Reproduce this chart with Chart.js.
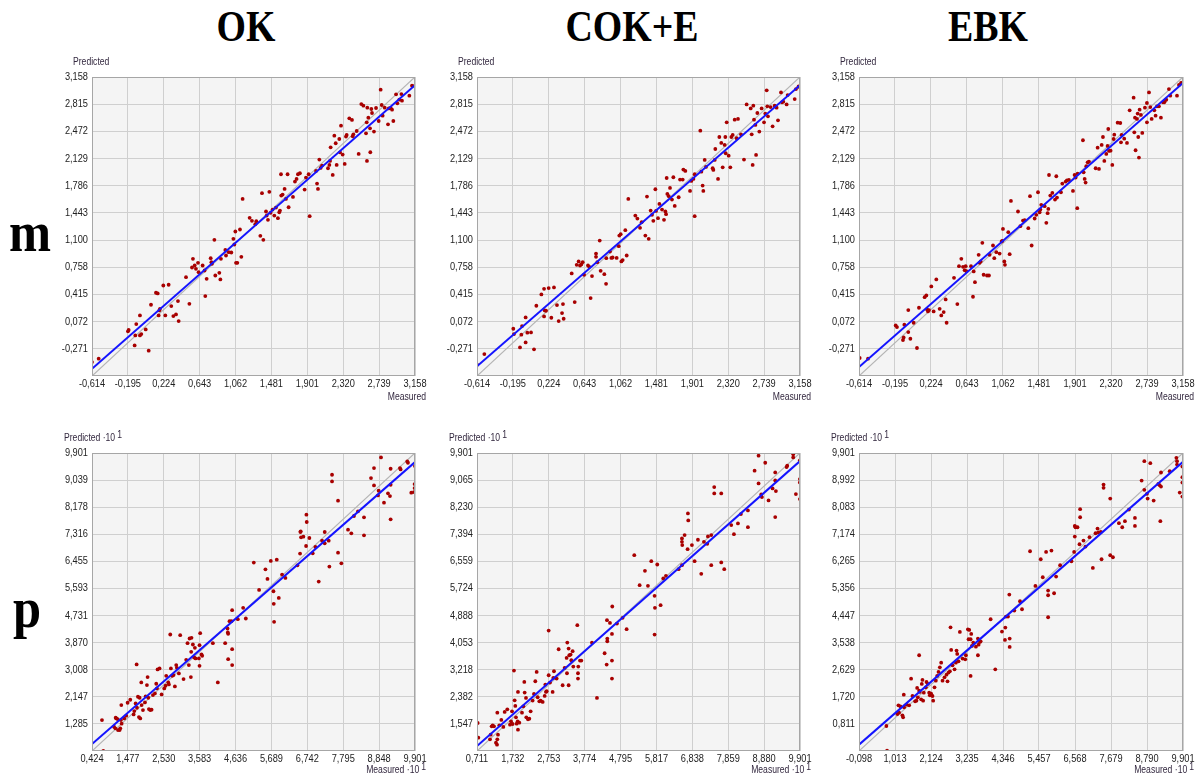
<!DOCTYPE html>
<html>
<head>
<meta charset="utf-8">
<script src="https://cdn.jsdelivr.net/npm/chart.js@4.4.0/dist/chart.umd.min.js"></script>
<style>
  body { margin: 0; background: #fff; width: 1197px; height: 774px; overflow: hidden; position: relative; }
  canvas { position: absolute; }
  .head { position: absolute; width: 200px; text-align: center; font: bold 44px "Liberation Serif", serif; line-height: 44px; color: #000; transform: scaleX(0.86); white-space: nowrap; }
  .row { position: absolute; width: 60px; text-align: center; font: bold 58px "Liberation Serif", serif; line-height: 58px; color: #000; transform: scaleX(0.87); }
</style>
</head>
<body>
<div class="head" style="left:146px;top:5px">OK</div>
<div class="head" style="left:532px;top:5px">COK+E</div>
<div class="head" style="left:888px;top:5px">EBK</div>
<div class="row" style="left:0px;top:203px">m</div>
<div class="row" style="left:-3px;top:579px">p</div>

<canvas id="okM"></canvas>
<canvas id="cokM"></canvas>
<canvas id="ebkM"></canvas>
<canvas id="okP"></canvas>
<canvas id="cokP"></canvas>
<canvas id="ebkP"></canvas>

<script>
// ---- tick values (labels are these with a decimal comma) ----
const mTicksX = [-0.614, -0.195, 0.224, 0.643, 1.062, 1.481, 1.901, 2.320, 2.739, 3.158];
const mTicksY = [-0.271, 0.072, 0.415, 0.758, 1.100, 1.443, 1.786, 2.129, 2.472, 2.815, 3.158];
const mRange = [-0.614, 3.158];

const okPTicksX = [0.424, 1.477, 2.530, 3.583, 4.636, 5.689, 6.742, 7.795, 8.848, 9.901];
const okPTicksY = [1.285, 2.147, 3.008, 3.870, 4.731, 5.593, 6.455, 7.316, 8.178, 9.039, 9.901];
const okPRange = [0.424, 9.901];

const cokPTicksX = [0.711, 1.732, 2.753, 3.774, 4.795, 5.817, 6.838, 7.859, 8.880, 9.901];
const cokPTicksY = [1.547, 2.382, 3.218, 4.053, 4.888, 5.724, 6.559, 7.394, 8.230, 9.065, 9.901];
const cokPRange = [0.711, 9.901];

const ebkPTicksX = [-0.098, 1.013, 2.124, 3.235, 4.346, 5.457, 6.568, 7.679, 8.790, 9.901];
const ebkPTicksY = [0.811, 1.720, 2.629, 3.538, 4.447, 5.356, 6.265, 7.174, 8.083, 8.992, 9.901];
const ebkPRange = [-0.098, 9.901];

// ---- regression line: predicted value at the left and right end of the x range ----
const okMFit = [-0.522, 3.055];
const cokMFit = [-0.492, 3.055];
const ebkMFit = [-0.501, 3.082];
const okPFit = [0.646, 9.612];
const cokPFit = [0.865, 9.653];
const ebkPFit = [0.115, 9.604];

// ---- measured / predicted pairs ----
const okM = [[-0.614,-0.438],[-0.536,-0.396],[-0.194,-0.051],[-0.186,-0.034],[-0.116,-0.228],[-0.108,-0.102],[-0.097,0.041],[-0.054,0.150],[-0.054,-0.102],[-0.038,-0.085],[0.013,-0.026],[0.048,-0.295],[0.075,0.285],[0.133,0.436],[0.153,0.428],[0.164,0.150],[0.172,0.213],[0.180,0.234],[0.219,0.528],[0.242,0.150],[0.281,0.537],[0.312,0.268],[0.336,0.142],[0.367,0.163],[0.390,0.331],[0.398,0.079],[0.484,0.633],[0.523,0.297],[0.554,0.755],[0.565,0.864],[0.585,0.780],[0.600,0.738],[0.624,0.814],[0.631,0.696],[0.678,0.780],[0.701,0.717],[0.709,0.394],[0.725,0.612],[0.772,0.873],[0.780,0.822],[0.787,0.801],[0.815,1.104],[0.826,0.654],[0.873,0.688],[0.885,0.604],[0.892,0.864],[0.943,0.977],[0.951,0.906],[0.982,0.948],[1.013,0.944],[1.037,1.116],[1.048,1.045],[1.060,1.209],[1.068,0.814],[1.083,0.814],[1.114,1.234],[1.130,0.890],[1.145,1.620],[1.227,1.381],[1.254,1.343],[1.293,1.301],[1.305,1.339],[1.352,1.154],[1.371,1.692],[1.387,1.104],[1.418,1.461],[1.426,1.410],[1.441,1.356],[1.457,1.709],[1.472,1.444],[1.495,1.486],[1.515,1.410],[1.534,1.511],[1.557,1.377],[1.573,1.452],[1.581,1.473],[1.593,1.931],[1.596,1.662],[1.612,1.675],[1.635,1.746],[1.651,1.620],[1.670,1.931],[1.682,1.515],[1.733,1.645],[1.756,1.839],[1.775,1.872],[1.791,1.931],[1.814,1.944],[1.869,1.738],[1.885,1.889],[1.916,1.931],[1.928,1.402],[2.002,1.973],[2.014,1.813],[2.025,1.746],[2.041,2.116],[2.056,2.011],[2.072,2.040],[2.142,2.007],[2.158,2.049],[2.166,2.099],[2.173,2.271],[2.197,1.923],[2.216,2.418],[2.232,2.322],[2.243,2.049],[2.274,2.376],[2.282,2.208],[2.294,2.544],[2.313,2.179],[2.337,2.061],[2.352,2.406],[2.360,2.427],[2.391,2.637],[2.422,2.616],[2.430,2.410],[2.438,2.435],[2.477,2.477],[2.500,2.187],[2.531,2.817],[2.555,2.796],[2.586,2.448],[2.594,2.586],[2.597,2.099],[2.601,2.771],[2.613,2.645],[2.633,2.510],[2.636,2.209],[2.648,2.754],[2.656,2.704],[2.679,2.469],[2.703,2.767],[2.734,2.603],[2.757,2.998],[2.769,2.805],[2.780,2.670],[2.804,2.771],[2.843,2.561],[2.851,2.762],[2.874,2.767],[2.890,2.746],[2.905,2.603],[2.937,2.939],[2.952,2.826],[2.975,2.872],[2.999,2.943],[3.006,2.859],[3.092,2.922],[3.123,3.048],[3.158,3.048]];

const cokM = [[-0.614,-0.471],[-0.528,-0.337],[-0.190,-0.018],[-0.182,-0.085],[-0.112,-0.253],[-0.096,-0.093],[-0.088,0.016],[-0.046,0.125],[-0.046,-0.190],[-0.026,-0.068],[0.017,-0.064],[0.052,-0.278],[0.079,0.272],[0.138,0.415],[0.169,0.486],[0.169,0.138],[0.177,0.213],[0.192,0.209],[0.223,0.495],[0.254,0.121],[0.285,0.503],[0.320,0.281],[0.340,0.079],[0.379,0.180],[0.390,0.293],[0.398,0.108],[0.492,0.680],[0.527,0.318],[0.550,0.789],[0.573,0.831],[0.589,0.780],[0.604,0.793],[0.620,0.822],[0.636,0.663],[0.682,0.780],[0.698,0.763],[0.713,0.369],[0.729,0.646],[0.776,0.931],[0.776,0.889],[0.791,0.822],[0.819,1.095],[0.830,0.713],[0.873,0.671],[0.893,0.549],[0.896,0.872],[0.939,0.956],[0.955,0.876],[0.970,0.881],[1.017,0.876],[1.041,1.024],[1.048,1.158],[1.064,1.175],[1.072,0.831],[1.087,0.848],[1.118,1.226],[1.134,0.906],[1.153,1.620],[1.235,1.410],[1.259,1.372],[1.290,1.255],[1.309,1.326],[1.352,1.158],[1.371,1.650],[1.391,1.116],[1.414,1.473],[1.430,1.419],[1.445,1.343],[1.469,1.742],[1.477,1.469],[1.500,1.377],[1.516,1.557],[1.547,1.486],[1.570,1.356],[1.586,1.461],[1.594,1.427],[1.601,1.884],[1.609,1.683],[1.625,1.654],[1.640,1.759],[1.663,1.612],[1.679,1.893],[1.695,1.532],[1.741,1.641],[1.757,1.864],[1.788,1.864],[1.796,1.990],[1.819,1.973],[1.874,1.721],[1.889,1.847],[1.913,1.872],[1.928,1.402],[1.928,1.931],[1.994,2.481],[2.006,1.964],[2.021,1.788],[2.029,1.721],[2.045,2.112],[2.060,2.024],[2.138,2.007],[2.146,1.986],[2.162,2.112],[2.169,2.250],[2.201,1.872],[2.216,2.401],[2.239,2.326],[2.255,2.019],[2.278,2.301],[2.286,2.401],[2.290,2.196],[2.302,2.586],[2.325,2.166],[2.344,2.019],[2.356,2.401],[2.372,2.427],[2.395,2.620],[2.418,2.385],[2.434,2.629],[2.469,2.435],[2.504,2.116],[2.535,2.812],[2.582,2.762],[2.594,2.435],[2.605,2.049],[2.613,2.796],[2.621,2.620],[2.637,2.553],[2.645,2.175],[2.660,2.704],[2.683,2.469],[2.710,2.762],[2.738,2.586],[2.753,2.696],[2.769,2.990],[2.776,2.788],[2.784,2.662],[2.815,2.779],[2.838,2.536],[2.862,2.796],[2.885,2.771],[2.901,2.611],[2.936,2.964],[2.948,2.838],[2.963,2.847],[3.002,2.812],[3.014,2.930],[3.096,2.880],[3.111,3.006],[3.142,3.040],[3.158,3.027]];

const ebkM = [[-0.606,-0.387],[-0.509,-0.396],[-0.187,0.024],[-0.172,0.003],[-0.102,-0.160],[-0.094,-0.127],[-0.086,0.033],[-0.040,0.218],[-0.040,-0.060],[-0.016,-0.144],[0.022,0.058],[0.061,-0.261],[0.084,0.247],[0.150,0.381],[0.170,0.402],[0.178,0.226],[0.189,0.201],[0.201,0.218],[0.228,0.516],[0.255,0.201],[0.286,0.604],[0.325,0.234],[0.344,0.150],[0.372,0.192],[0.395,0.352],[0.406,0.058],[0.492,0.625],[0.531,0.293],[0.550,0.772],[0.577,0.864],[0.597,0.763],[0.616,0.721],[0.628,0.772],[0.636,0.709],[0.690,0.772],[0.713,0.386],[0.721,0.705],[0.736,0.570],[0.779,0.915],[0.790,0.814],[0.802,0.831],[0.822,1.066],[0.837,0.663],[0.876,0.654],[0.899,0.654],[0.907,0.915],[0.946,1.032],[0.961,0.873],[0.985,0.948],[1.023,0.931],[1.047,1.083],[1.054,1.091],[1.062,1.242],[1.078,0.831],[1.085,0.789],[1.124,1.200],[1.140,0.923],[1.155,1.595],[1.237,1.461],[1.264,1.276],[1.295,1.347],[1.315,1.351],[1.357,1.251],[1.377,1.654],[1.396,1.032],[1.431,1.373],[1.450,1.419],[1.470,1.704],[1.489,1.452],[1.497,1.486],[1.508,1.545],[1.547,1.528],[1.567,1.318],[1.582,1.440],[1.590,1.494],[1.598,1.922],[1.613,1.662],[1.637,1.696],[1.668,1.612],[1.683,1.906],[1.691,1.637],[1.737,1.704],[1.753,1.813],[1.792,1.839],[1.807,1.855],[1.830,1.860],[1.877,1.721],[1.896,1.922],[1.908,1.889],[1.927,1.503],[1.931,1.940],[1.993,2.360],[2.001,1.956],[2.013,1.872],[2.024,1.826],[2.032,2.032],[2.048,2.082],[2.063,2.091],[2.141,2.007],[2.164,2.267],[2.180,1.998],[2.211,2.301],[2.226,2.401],[2.242,2.099],[2.265,2.187],[2.280,2.288],[2.288,2.502],[2.296,2.225],[2.315,2.229],[2.335,2.049],[2.350,2.376],[2.358,2.431],[2.397,2.582],[2.428,2.578],[2.436,2.334],[2.443,2.427],[2.474,2.380],[2.506,2.326],[2.537,2.737],[2.583,2.897],[2.591,2.460],[2.599,2.645],[2.606,2.234],[2.622,2.629],[2.630,2.696],[2.637,2.401],[2.645,2.141],[2.653,2.746],[2.668,2.679],[2.684,2.452],[2.715,2.771],[2.738,2.586],[2.738,2.830],[2.762,2.964],[2.777,2.779],[2.793,2.629],[2.824,2.737],[2.839,2.670],[2.855,2.788],[2.878,2.788],[2.901,2.645],[2.925,2.838],[2.940,2.838],[2.948,2.859],[2.963,2.872],[2.994,3.006],[3.010,2.922],[3.088,2.922],[3.111,3.057],[3.135,3.082],[3.158,3.090]];

const okP = [[0.717,1.408],[0.756,0.430],[1.069,1.197],[1.108,1.144],[1.118,1.483],[1.137,1.461],[1.176,1.440],[1.186,1.091],[1.235,1.091],[1.254,1.144],[1.274,1.408],[1.284,1.885],[1.293,1.292],[1.371,1.461],[1.430,1.546],[1.469,1.959],[1.547,2.054],[1.645,1.588],[1.665,1.694],[1.704,1.938],[1.733,3.176],[1.743,1.800],[1.772,2.149],[1.801,1.504],[1.821,2.118],[1.840,1.461],[1.870,2.605],[1.880,1.885],[1.919,1.726],[1.977,1.969],[1.997,2.160],[2.036,2.520],[2.055,2.774],[2.075,2.118],[2.094,1.758],[2.133,1.726],[2.172,1.737],[2.212,2.202],[2.270,2.255],[2.309,2.562],[2.329,2.414],[2.348,3.017],[2.407,3.049],[2.466,2.223],[2.544,2.414],[2.583,2.499],[2.602,2.816],[2.661,2.605],[2.680,2.541],[2.720,4.129],[2.739,3.049],[2.778,2.816],[2.817,2.837],[2.856,2.478],[2.895,3.155],[2.915,3.070],[2.973,2.890],[3.012,4.108],[3.110,2.710],[3.188,3.324],[3.227,3.854],[3.266,3.155],[3.286,4.002],[3.325,2.774],[3.335,3.578],[3.344,4.023],[3.384,3.811],[3.423,3.398],[3.442,3.705],[3.462,3.367],[3.559,3.367],[3.579,3.790],[3.579,3.134],[3.598,4.171],[3.638,3.494],[3.657,3.451],[3.970,3.854],[4.116,2.605],[4.331,3.854],[4.400,4.319],[4.409,4.192],[4.419,4.150],[4.419,3.345],[4.458,4.552],[4.517,4.552],[4.536,4.902],[4.536,3.663],[4.536,3.155],[4.703,4.616],[4.859,4.976],[4.937,4.637],[5.171,6.415],[5.327,5.547],[5.513,6.203],[5.572,5.896],[5.670,6.468],[5.748,5.505],[5.757,5.103],[5.767,4.531],[5.845,6.510],[5.904,5.293],[6.001,6.034],[6.099,5.928],[6.451,6.330],[6.529,6.701],[6.539,7.389],[6.548,7.410],[6.558,7.220],[6.626,7.241],[6.705,6.944],[6.715,7.939],[6.724,7.707],[6.802,7.198],[6.900,6.711],[6.978,6.913],[7.076,5.813],[7.174,7.114],[7.252,7.389],[7.252,7.029],[7.369,7.114],[7.389,6.288],[7.467,9.209],[7.467,8.998],[7.643,6.732],[7.643,8.384],[7.740,6.394],[7.936,7.463],[8.033,7.347],[8.111,7.897],[8.229,8.045],[8.405,7.855],[8.405,7.283],[8.610,9.104],[8.698,9.421],[8.698,8.871],[8.815,8.553],[8.834,8.701],[8.903,9.760],[8.991,8.320],[9.108,8.617],[9.167,8.532],[9.186,8.892],[9.186,9.400],[9.186,7.791],[9.460,9.421],[9.479,9.379],[9.674,9.633],[9.694,9.591],[9.792,8.638],[9.870,8.659],[9.889,8.786],[9.889,8.913],[9.899,9.485]];

const cokP = [[0.730,1.575],[0.749,1.123],[1.081,1.071],[1.100,1.215],[1.128,1.472],[1.157,1.503],[1.195,1.472],[1.251,0.968],[1.280,0.906],[1.289,1.894],[1.289,1.071],[1.308,1.215],[1.346,1.503],[1.403,1.668],[1.460,1.452],[1.498,1.915],[1.574,1.997],[1.650,1.524],[1.678,1.627],[1.707,1.935],[1.725,1.544],[1.763,3.191],[1.782,2.275],[1.801,2.100],[1.820,1.750],[1.839,1.555],[1.868,1.627],[1.877,2.532],[1.877,1.370],[1.915,1.586],[1.991,1.894],[2.029,2.090],[2.057,2.841],[2.067,2.512],[2.105,2.347],[2.114,1.750],[2.162,1.689],[2.200,1.709],[2.237,1.935],[2.294,2.265],[2.332,2.471],[2.370,2.862],[2.408,3.150],[2.437,2.368],[2.484,2.244],[2.522,2.265],[2.579,2.224],[2.636,2.409],[2.655,2.759],[2.674,2.532],[2.693,2.553],[2.750,3.047],[2.750,4.426],[2.788,2.820],[2.863,2.532],[2.882,2.964],[2.901,3.170],[2.977,2.944],[3.034,3.849],[3.148,2.738],[3.204,3.273],[3.261,3.582],[3.271,3.109],[3.280,4.055],[3.318,2.738],[3.318,3.870],[3.337,3.664],[3.375,3.685],[3.394,3.510],[3.432,3.788],[3.451,3.314],[3.565,4.590],[3.584,3.109],[3.584,2.944],[3.593,3.314],[3.641,3.500],[3.679,3.500],[3.982,4.055],[4.124,2.347],[4.342,3.726],[4.400,3.376],[4.409,4.745],[4.418,4.096],[4.418,4.179],[4.494,4.662],[4.551,4.323],[4.551,3.500],[4.551,2.944],[4.560,5.167],[4.693,4.642],[4.854,4.817],[4.968,4.467],[5.186,6.751],[5.338,5.825],[5.489,6.268],[5.575,5.804],[5.670,6.566],[5.764,5.496],[5.774,5.125],[5.764,4.302],[5.840,6.463],[5.935,5.208],[6.011,6.031],[6.087,6.113],[6.447,6.319],[6.542,6.442],[6.542,7.266],[6.542,7.163],[6.551,7.060],[6.618,7.369],[6.703,6.936],[6.712,8.038],[6.722,7.821],[6.826,7.060],[6.902,6.566],[6.997,7.225],[7.092,6.175],[7.168,7.163],[7.262,7.101],[7.281,7.327],[7.376,7.369],[7.376,6.442],[7.461,8.850],[7.461,8.655],[7.660,8.655],[7.660,6.525],[7.746,6.319],[7.945,7.677],[8.021,7.399],[8.135,7.729],[8.220,8.017],[8.419,8.130],[8.419,7.615],[8.609,9.355],[8.722,9.817],[8.722,8.964],[8.798,8.624],[8.817,8.542],[8.912,9.601],[9.006,8.439],[9.121,8.809],[9.196,7.924],[9.196,9.303],[9.215,8.727],[9.196,9.056],[9.519,9.468],[9.538,9.509],[9.708,9.859],[9.708,9.766],[9.784,8.634],[9.898,9.674],[9.898,9.097],[9.898,8.994],[9.898,8.480]];

const ebkP = [[0.747,0.741],[0.768,-0.090],[1.088,1.144],[1.119,1.435],[1.139,1.189],[1.180,1.401],[1.242,1.099],[1.263,1.032],[1.284,1.793],[1.294,1.368],[1.366,1.457],[1.449,1.435],[1.510,2.330],[1.552,1.748],[1.634,1.569],[1.675,1.592],[1.696,2.017],[1.717,1.704],[1.758,3.114],[1.758,1.927],[1.779,1.883],[1.820,1.636],[1.840,2.151],[1.861,2.286],[1.881,1.592],[1.902,1.860],[1.964,2.039],[1.985,2.218],[2.026,2.151],[2.067,1.860],[2.088,1.771],[2.129,1.827],[2.170,1.748],[2.191,1.592],[2.232,2.039],[2.273,2.263],[2.314,2.420],[2.356,2.554],[2.397,2.711],[2.438,2.867],[2.480,2.263],[2.541,2.375],[2.603,2.464],[2.634,2.241],[2.665,2.532],[2.706,2.576],[2.727,4.053],[2.747,3.293],[2.789,2.778],[2.851,2.644],[2.892,2.867],[2.912,3.270],[2.933,3.158],[2.974,2.912],[3.015,3.897],[3.098,3.002],[3.181,2.979],[3.201,3.114],[3.263,3.986],[3.284,3.651],[3.304,3.964],[3.346,3.651],[3.346,2.420],[3.366,3.830],[3.387,3.427],[3.428,3.539],[3.510,3.404],[3.572,3.673],[3.572,3.114],[3.593,3.471],[3.634,3.561],[3.655,3.583],[3.964,4.322],[4.108,2.644],[4.314,3.908],[4.418,4.042],[4.407,3.628],[4.438,4.412],[4.500,4.412],[4.541,5.150],[4.552,3.673],[4.552,3.393],[4.696,4.613],[4.871,4.926],[4.933,4.658],[5.181,6.605],[5.346,5.441],[5.511,6.336],[5.573,5.732],[5.676,6.582],[5.738,5.284],[5.738,5.128],[5.738,4.389],[5.841,6.627],[5.923,5.195],[5.985,5.754],[6.109,6.135],[6.459,6.269],[6.541,6.582],[6.562,7.097],[6.562,7.455],[6.583,7.410],[6.645,7.410],[6.707,6.840],[6.727,8.015],[6.727,7.746],[6.830,6.963],[6.892,6.761],[7.016,7.075],[7.119,6.045],[7.202,7.209],[7.263,7.366],[7.284,7.231],[7.366,7.254],[7.387,6.336],[7.449,8.843],[7.449,8.731],[7.655,8.373],[7.655,6.470],[7.738,6.403],[7.923,7.545],[8.026,7.410],[8.109,7.612],[8.232,8.002],[8.418,7.724],[8.418,7.455],[8.624,8.977],[8.707,9.626],[8.707,8.664],[8.789,8.530],[8.810,8.373],[8.892,9.559],[8.995,8.306],[9.140,8.865],[9.181,8.820],[9.202,7.612],[9.222,9.246],[9.222,8.776],[9.490,9.291],[9.697,9.738],[9.717,9.626],[9.717,9.514],[9.800,8.574],[9.882,9.447],[9.882,9.089],[9.882,8.910],[9.882,8.440]];

// ---- layout ----
const PAD_L = 60, PAD_T = 30, PAD_R = 20, PAD_B = 30;
const TICK_FONT = '11px "Liberation Sans", Arial, sans-serif';
const TICK_SX = 0.84;
const LABEL_FONT = '10px "Liberation Sans", Arial, sans-serif';
const LABEL_SX = 0.86;

const panels = [
  { id: 'okM',  left: 92,  top: 77,  w: 323, h: 299, pts: okM,  fit: okMFit,  range: mRange,    xTicks: mTicksX,    yTicks: mTicksY,    power: false },
  { id: 'cokM', left: 477, top: 77,  w: 323, h: 299, pts: cokM, fit: cokMFit, range: mRange,    xTicks: mTicksX,    yTicks: mTicksY,    power: false },
  { id: 'ebkM', left: 859, top: 77,  w: 324, h: 299, pts: ebkM, fit: ebkMFit, range: mRange,    xTicks: mTicksX,    yTicks: mTicksY,    power: false },
  { id: 'okP',  left: 92,  top: 453, w: 323, h: 298, pts: okP,  fit: okPFit,  range: okPRange,  xTicks: okPTicksX,  yTicks: okPTicksY,  power: true },
  { id: 'cokP', left: 477, top: 453, w: 323, h: 298, pts: cokP, fit: cokPFit, range: cokPRange, xTicks: cokPTicksX, yTicks: cokPTicksY, power: true },
  { id: 'ebkP', left: 859, top: 453, w: 324, h: 298, pts: ebkP, fit: ebkPFit, range: ebkPRange, xTicks: ebkPTicksX, yTicks: ebkPTicksY, power: true }
];

function fmt(v) { return v.toFixed(3).replace('.', ','); }

function drawText(ctx, s, x, y, align, font, sx) {
  ctx.save();
  ctx.translate(x, y);
  ctx.scale(sx, 1);
  ctx.font = font;
  ctx.textAlign = align;
  ctx.textBaseline = 'middle';
  ctx.fillText(s, 0, 0);
  ctx.restore();
}

function textWidth(ctx, s, font, sx) {
  ctx.save();
  ctx.font = font;
  const w = ctx.measureText(s).width * sx;
  ctx.restore();
  return w;
}

// background, frame, tick labels and axis captions
const framePlugin = {
  id: 'frame',
  beforeDraw(chart) {
    const { ctx, chartArea: a } = chart;
    ctx.save();
    ctx.fillStyle = '#f4f4f4';
    ctx.fillRect(a.left, a.top, a.right - a.left, a.bottom - a.top);
    ctx.restore();
  },
  afterDraw(chart, args, o) {
    const { ctx, chartArea: a, scales } = chart;
    ctx.save();
    ctx.strokeStyle = '#a6a6a6';
    ctx.lineWidth = 1;
    ctx.strokeRect(a.left + 0.5, a.top + 0.5, a.right - a.left - 1, a.bottom - a.top - 1);

    ctx.fillStyle = '#222222';
    o.yTicks.forEach(v => drawText(ctx, fmt(v), a.left - 4, scales.y.getPixelForValue(v), 'right', TICK_FONT, TICK_SX));
    o.xTicks.forEach(v => drawText(ctx, fmt(v), scales.x.getPixelForValue(v), a.bottom + 8, 'center', TICK_FONT, TICK_SX));

    ctx.fillStyle = '#33283f';
    if (o.power) {
      const main = 'Predicted \u00b710';
      const x0 = a.left - 28, y0 = a.top - 15;
      drawText(ctx, main, x0, y0, 'left', LABEL_FONT, LABEL_SX);
      drawText(ctx, '1', x0 + textWidth(ctx, main, LABEL_FONT, LABEL_SX) + 2, y0 - 3, 'left', LABEL_FONT, LABEL_SX);
      const r = a.right + 11, yb = a.bottom + 19;
      const supW = textWidth(ctx, '1', LABEL_FONT, LABEL_SX);
      drawText(ctx, '1', r, yb - 3, 'right', LABEL_FONT, LABEL_SX);
      drawText(ctx, 'Measured \u00b710', r - supW - 2, yb, 'right', LABEL_FONT, LABEL_SX);
    } else {
      drawText(ctx, 'Predicted', a.left - 19, a.top - 15, 'left', LABEL_FONT, LABEL_SX);
      drawText(ctx, 'Measured', a.right + 11, a.bottom + 21, 'right', LABEL_FONT, LABEL_SX);
    }
    ctx.restore();
  }
};

panels.forEach(p => {
  const canvas = document.getElementById(p.id);
  canvas.width = PAD_L + p.w + PAD_R;
  canvas.height = PAD_T + p.h + PAD_B;
  canvas.style.left = (p.left - PAD_L) + 'px';
  canvas.style.top = (p.top - PAD_T) + 'px';

  const [lo, hi] = p.range;
  new Chart(canvas.getContext('2d'), {
    type: 'scatter',
    data: {
      datasets: [
        {
          type: 'line',
          data: [{ x: lo, y: p.fit[0] }, { x: hi, y: p.fit[1] }],
          borderColor: '#1414ff',
          borderWidth: 2,
          pointRadius: 0,
          fill: false
        },
        {
          data: p.pts.map(d => ({ x: d[0], y: d[1] })),
          backgroundColor: '#a80000',
          borderWidth: 0,
          pointRadius: 1.9
        },
        {
          type: 'line',
          data: [{ x: lo, y: lo }, { x: hi, y: hi }],
          borderColor: '#b4b4b4',
          borderWidth: 1.2,
          pointRadius: 0,
          fill: false
        }
      ]
    },
    options: {
      responsive: false,
      animation: false,
      devicePixelRatio: 1,
      events: [],
      layout: { padding: { left: 0, top: PAD_T, right: PAD_R, bottom: 0 } },
      scales: {
        x: {
          type: 'linear', min: lo, max: hi,
          afterBuildTicks: s => { s.ticks = p.xTicks.map(v => ({ value: v })); },
          afterFit: s => { s.height = PAD_B; },
          ticks: { display: false },
          grid: { color: '#cfcfcf', lineWidth: 1, drawTicks: false },
          border: { display: false }
        },
        y: {
          type: 'linear', min: lo, max: hi,
          afterBuildTicks: s => { s.ticks = p.yTicks.map(v => ({ value: v })); },
          afterFit: s => { s.width = PAD_L; },
          ticks: { display: false },
          grid: { color: '#cfcfcf', lineWidth: 1, drawTicks: false },
          border: { display: false }
        }
      },
      plugins: {
        legend: { display: false },
        tooltip: { enabled: false },
        frame: { xTicks: p.xTicks, yTicks: p.yTicks, power: p.power }
      }
    },
    plugins: [framePlugin]
  });
});
</script>
</body>
</html>
